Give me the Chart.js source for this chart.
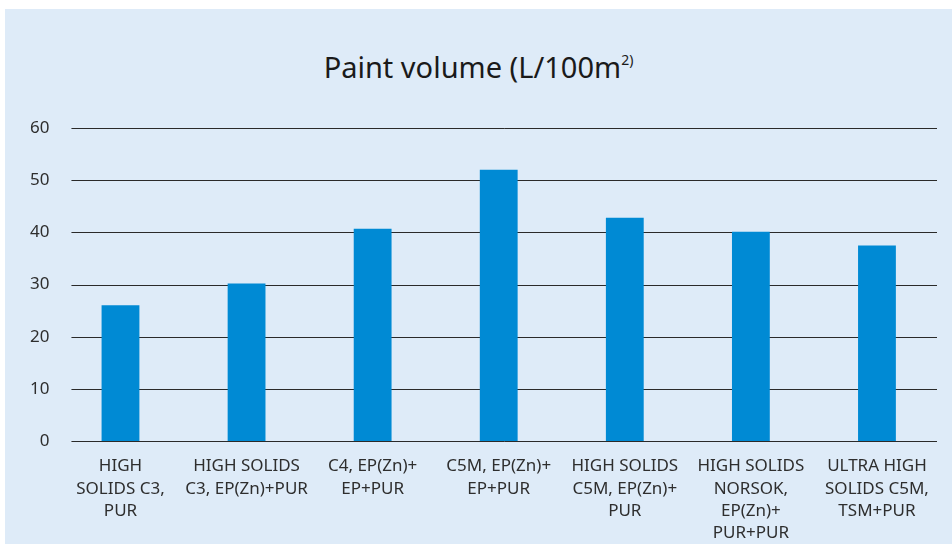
<!DOCTYPE html>
<html>
<head>
<meta charset="utf-8">
<script src="https://cdn.jsdelivr.net/npm/chart.js@4"></script>
<style>
  html, body { margin: 0; padding: 0; background: #ffffff; }
  #wrap {
    position: absolute; left: 5px; top: 9px;
    width: 947px; height: 535px;
    background: #deebf8;
  }
  #title {
    position: absolute; left: 0; right: 0; top: 38px;
    text-align: center;
    font-family: 'Noto Sans', sans-serif; font-size: 29px; color: #1a1a1a;
  }
  #title sup { font-size: 14px; vertical-align: 13px; }
  canvas { position: absolute; left: 0; top: 0; }
</style>
</head>
<body>
<div id="wrap">
  <div id="title">Paint volume (L/100m<sup>2)</sup></div>
  <canvas id="paintChart" width="947" height="535"></canvas>
</div>
<script>
// ─── Data ─────────────────────────────────────────────
const categories = [
    ['HIGH', 'SOLIDS C3,', 'PUR'],
    ['HIGH SOLIDS', 'C3, EP(Zn)+PUR'],
    ['C4, EP(Zn)+', 'EP+PUR'],
    ['C5M, EP(Zn)+', 'EP+PUR'],
    ['HIGH SOLIDS', 'C5M, EP(Zn)+', 'PUR'],
    ['HIGH SOLIDS', 'NORSOK,', 'EP(Zn)+', 'PUR+PUR'],
    ['ULTRA HIGH', 'SOLIDS C5M,', 'TSM+PUR']
];
const paintVolume = [26, 30.2, 40.7, 52, 42.8, 40.1, 37.5];
const yTicks      = [0, 10, 20, 30, 40, 50, 60];

const textColor = '#2e2e2e';
const barColor  = '#008ad4';
const gridColor = '#2a2a2a';
const font      = 'Noto Sans';

// gridlines are inset a little from the category band, as in the original
const insetGrid = {
    id: 'insetGrid',
    beforeDatasetsDraw(chart) {
        const { ctx, chartArea, scales: { y } } = chart;
        ctx.save();
        ctx.strokeStyle = gridColor;
        ctx.lineWidth = 1;
        y.ticks.forEach(t => {
            const py = Math.round(y.getPixelForValue(t.value)) + 0.5;
            ctx.beginPath();
            ctx.moveTo(chartArea.left + 14, py);
            ctx.lineTo(chartArea.right - 3, py);
            ctx.stroke();
        });
        ctx.restore();
    }
};

// ─── Chart ────────────────────────────────────────────
const ctx = document.getElementById('paintChart').getContext('2d');
new Chart(ctx, {
    type: 'bar',
    data: {
        labels: categories,
        datasets: [{
            data: paintVolume,
            backgroundColor: barColor,
            borderWidth: 0,
            barPercentage: 0.3,
            categoryPercentage: 1
        }]
    },
    options: {
        responsive: false,
        animation: false,
        layout: { padding: { top: 119, right: 12, left: 17, bottom: 0 } },
        plugins: {
            legend:  { display: false },
            tooltip: { enabled: false },
            title:   { display: false }
        },
        scales: {
            x: {
                afterFit: axis => { axis.height = 103; },
                grid:   { display: false },
                border: { display: false },
                ticks:  { color: textColor, font: { family: font, size: 17, lineHeight: 1.32 }, maxRotation: 0, autoSkip: false, padding: 6 }
            },
            y: {
                min: 0,
                max: 60,
                afterBuildTicks: axis => { axis.ticks = yTicks.map(v => ({ value: v })); },
                grid:   { display: false, drawTicks: false },
                border: { display: false },
                ticks:  { color: textColor, font: { family: font, size: 17 }, padding: 8 }
            }
        }
    },
    plugins: [insetGrid]
});
</script>
</body>
</html>
